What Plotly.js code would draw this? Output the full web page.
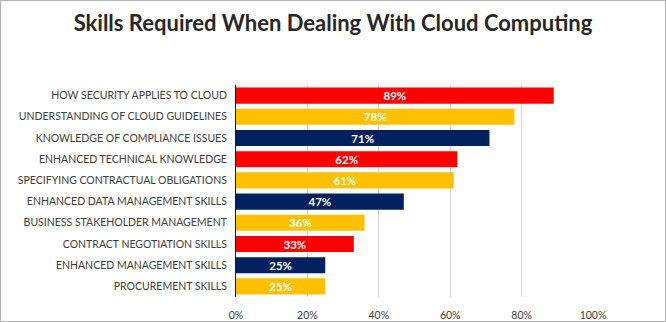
<!DOCTYPE html>
<html><head><meta charset="utf-8">
<script src="https://cdn.plot.ly/plotly-3.0.1.min.js"></script>
<style>html,body{margin:0;padding:0;background:#fff}#c{width:666px;height:322px;box-sizing:border-box;border:1px solid #b4b4b4}</style>
</head><body><div id="c"></div>
<script>
const categories = [
  "HOW SECURITY APPLIES TO CLOUD",
  "UNDERSTANDING OF CLOUD GUIDELINES",
  "KNOWLEDGE OF COMPLIANCE ISSUES",
  "ENHANCED TECHNICAL KNOWLEDGE",
  "SPECIFYING CONTRACTUAL OBLIGATIONS",
  "ENHANCED DATA MANAGEMENT SKILLS",
  "BUSINESS STAKEHOLDER MANAGEMENT",
  "CONTRACT NEGOTIATION SKILLS",
  "ENHANCED MANAGEMENT SKILLS",
  "PROCUREMENT SKILLS"
];
const values = [89, 78, 71, 62, 61, 47, 36, 33, 25, 25];
const barColors = ["#FF0000","#FFC000","#002060","#FF0000","#FFC000","#002060","#FFC000","#FF0000","#002060","#FFC000"];
const xTicks = [0, 20, 40, 60, 80, 100];
const xTickLabels = ["0%","20%","40%","60%","80%","100%"];

const trace = {
  type: "bar", orientation: "h",
  x: values, y: categories,
  marker: {color: barColors},
  text: values.map(v => v + "%"),
  textposition: "inside", insidetextanchor: "middle", constraintext: "none",
  textfont: {family: "Lato, sans-serif", size: 11.5, color: "#ffffff", weight: "bold"},
  hoverinfo: "none", cliponaxis: false
};
const layout = {
  width: 664, height: 320,
  margin: {l: 235, r: 72, t: 84, b: 24},
  paper_bgcolor: "#fff", plot_bgcolor: "#fff",
  showlegend: false, bargap: 0.24,
  title: {text: "Skills Required When Dealing With Cloud Computing",
          font: {family: "Lato, sans-serif", size: 22, color: "#262626", weight: "bold"},
          x: 0.5, xanchor: "center", y: 0.93, yanchor: "middle", yref: "container"},
  xaxis: {range: [0, 100], tickvals: xTicks, ticktext: xTickLabels,
          showgrid: true, gridcolor: "#d4d4d4", gridwidth: 1, zeroline: false,
          showline: false, ticks: "", fixedrange: true,
          tickfont: {family: "Lato, sans-serif", size: 10.5, color: "#404040"},
          ticklabelstandoff: 10},
  yaxis: {autorange: "reversed", showline: true, linecolor: "#1a1a1a", linewidth: 1,
          ticks: "", showgrid: false, fixedrange: true,
          tickfont: {family: "Lato, sans-serif", size: 10.5, color: "#404040"},
          ticklabelstandoff: 6}
};
Plotly.newPlot("c", [trace], layout, {displayModeBar: false, staticPlot: true});
</script></body></html>
